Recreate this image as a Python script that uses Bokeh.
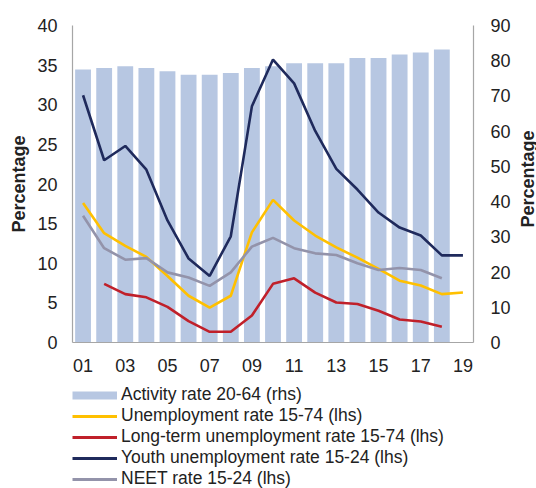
from bokeh.plotting import figure
from bokeh.layouts import column, row
from bokeh.models import (Range1d, LinearAxis, FixedTicker, Legend, LegendItem)
from bokeh.core.properties import value
from bokeh.embed import file_html
from bokeh.resources import INLINE
import math

years = [1, 2, 3, 4, 5, 6, 7, 8, 9, 10, 11, 12, 13, 14, 15, 16, 17, 18, 19]
tick_years = [1, 3, 5, 7, 9, 11, 13, 15, 17, 19]
tick_labels = ["01", "03", "05", "07", "09", "11", "13", "15", "17", "19"]
lhs_ticks = [0, 5, 10, 15, 20, 25, 30, 35, 40]
rhs_ticks = [0, 10, 20, 30, 40, 50, 60, 70, 80, 90]

activity = [77.5, 77.9, 78.4, 77.9, 77.0, 76.0, 76.0, 76.5, 77.9, 78.4,
            79.3, 79.3, 79.3, 80.8, 80.8, 81.8, 82.3, 83.2]
unemployment = [17.6, 13.8, 12.2, 10.8, 8.4, 5.9, 4.4, 5.9, 13.9, 18.0,
                15.4, 13.5, 12.0, 10.7, 9.3, 7.8, 7.2, 6.1, 6.3]
long_term_years = [2, 3, 4, 5, 6, 7, 8, 9, 10, 11, 12, 13, 14, 15, 16, 17, 18]
long_term = [7.4, 6.1, 5.7, 4.5, 2.7, 1.35, 1.35, 3.4, 7.4, 8.1,
             6.3, 5.05, 4.85, 4.0, 2.9, 2.65, 2.0]
youth = [31.2, 23.0, 24.8, 21.8, 15.4, 10.6, 8.4, 13.4, 29.8, 35.7,
         32.7, 26.7, 21.9, 19.3, 16.4, 14.5, 13.5, 11.0, 11.0]
neet = [16.0, 11.9, 10.45, 10.65, 8.85, 8.2, 7.15, 8.85, 12.1, 13.2,
        11.9, 11.25, 11.05, 10.0, 9.15, 9.4, 9.15, 8.1]
legend_labels = ["Activity rate 20-64 (rhs)", "Unemployment rate 15-74 (lhs)",
                 "Long-term unemployment rate 15-74 (lhs)",
                 "Youth unemployment rate 15-24 (lhs)", "NEET rate 15-24 (lhs)"]
axis_title = "Percentage"

BAR = "#B7C7E2"
YEL = "#FFC000"
RED = "#C0202A"
NAVY = "#1F2A5C"
GREY = "#9393AA"
TXT = "#222222"
AXC = "#A6A6A6"
FONT = "Liberation Sans"

P_W = 518
p = figure(width=P_W, height=380, output_backend="svg", toolbar_location=None,
           x_range=Range1d(0.5, 19.5), y_range=Range1d(0, 40),
           min_border_left=72, min_border_right=P_W - 473, min_border_top=25, min_border_bottom=38)
p.extra_y_ranges = {"rhs": Range1d(0, 90)}
p.outline_line_color = None
p.xgrid.visible = False
p.ygrid.visible = False

p.vbar(x=years[:len(activity)], top=activity, width=0.75, y_range_name="rhs",
       fill_color=BAR, line_color=None)
p.line(years[:len(unemployment)], unemployment, line_color=YEL, line_width=2.6)
p.line(long_term_years, long_term, line_color=RED, line_width=2.6)
p.line(years[:len(youth)], youth, line_color=NAVY, line_width=2.6)
p.line(years[:len(neet)], neet, line_color=GREY, line_width=2.6)

xa = p.xaxis[0]
xa.ticker = FixedTicker(ticks=tick_years)
xa.major_label_overrides = {y: l for y, l in zip(tick_years, tick_labels)}

ya = p.yaxis[0]
ya.ticker = FixedTicker(ticks=lhs_ticks)
ya.axis_label = axis_title
ya.axis_label_text_font = FONT
ya.axis_label_text_font_style = "bold"
ya.axis_label_text_font_size = "18px"
ya.axis_label_text_color = TXT
ya.axis_label_standoff = 5

ra = LinearAxis(y_range_name="rhs", ticker=FixedTicker(ticks=rhs_ticks))
p.add_layout(ra, "right")

for ax, st in ((xa, 16), (ya, 15), (ra, 17)):
    ax.axis_line_color = AXC
    ax.axis_line_width = 1.2
    ax.major_tick_line_color = None
    ax.minor_tick_line_color = None
    ax.major_tick_out = 0
    ax.major_tick_in = 0
    ax.major_label_text_font = FONT
    ax.major_label_text_font_size = "18px"
    ax.major_label_text_color = TXT
    ax.major_label_standoff = st

# right-hand axis title strip
R_W = 536 - P_W
r = figure(width=R_W, height=380, output_backend="svg", toolbar_location=None,
           x_range=Range1d(0, 1), y_range=Range1d(0, 380),
           x_axis_type=None, y_axis_type=None,
           min_border_left=0, min_border_right=0, min_border_top=0, min_border_bottom=0)
r.outline_line_color = None
r.xgrid.visible = False
r.ygrid.visible = False
r.text(x=[0.5], y=[380 - 184], text=[axis_title], angle=math.pi / 2,
       text_font=value(FONT), text_font_style="bold", text_font_size="18px",
       text_color=TXT, text_align="center", text_baseline="middle")

# legend panel
q = figure(width=536, height=108, output_backend="svg", toolbar_location=None,
           x_range=Range1d(0, 1), y_range=Range1d(0, 1),
           x_axis_type=None, y_axis_type=None,
           min_border_left=68, min_border_right=0, min_border_top=0, min_border_bottom=0)
q.outline_line_color = None
q.xgrid.visible = False
q.ygrid.visible = False
leg_colors = [BAR, YEL, RED, NAVY, GREY]
leg_widths = [8, 3, 3, 3, 3]
items = []
for lab, c, w in zip(legend_labels, leg_colors, leg_widths):
    lr = q.line(x=[5, 6], y=[5, 5], line_color=c, line_width=w, line_cap="butt")
    items.append(LegendItem(label=lab, renderers=[lr]))
legend = Legend(items=items, location="top_left")
legend.glyph_width = 45
legend.glyph_height = 20
legend.label_height = 20
legend.spacing = 0
legend.padding = 0
legend.margin = 4
legend.label_standoff = 4
legend.label_text_font = FONT
legend.label_text_font_size = "17.5px"
legend.label_text_color = TXT
legend.border_line_color = None
legend.background_fill_alpha = 0
q.add_layout(legend)

layout = column(row(p, r, spacing=0), q, spacing=0)
open("out.html", "w").write(file_html(layout, INLINE))
